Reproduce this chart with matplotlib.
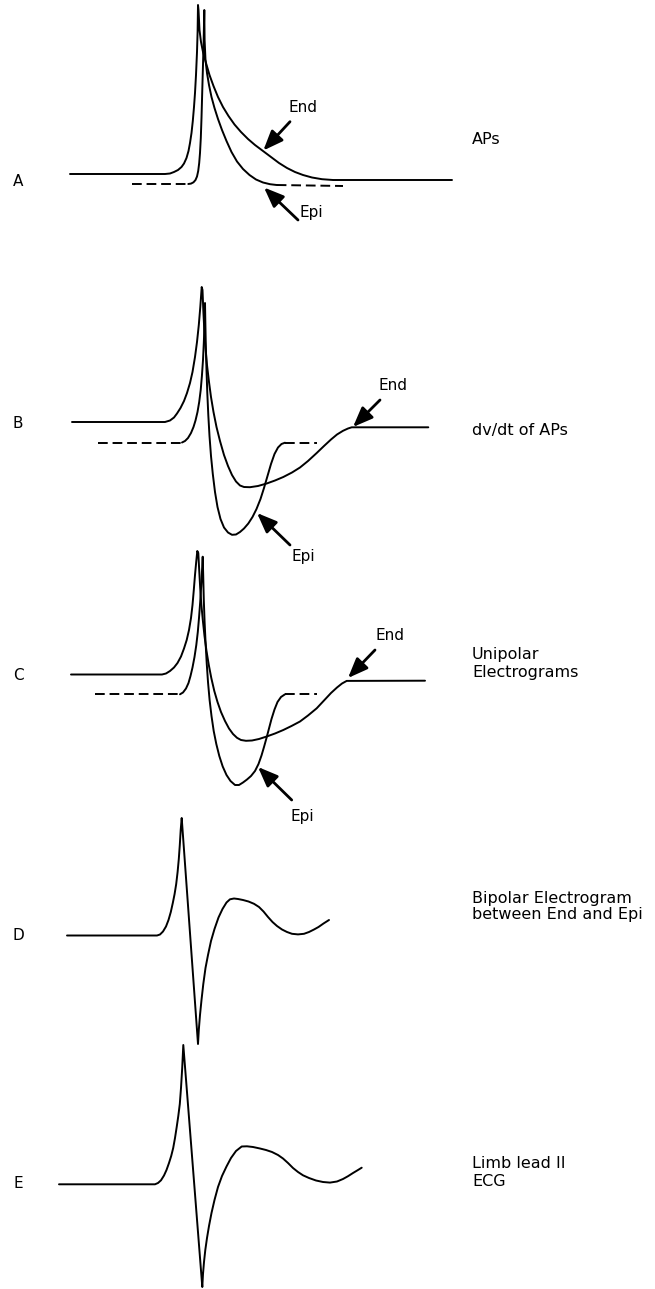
import matplotlib.pyplot as plt
import numpy as np

# all values, in pixel units (x right, y down)

# panel A - action potentials
a_end = [(70, 174), (165, 174), (170, 173.5), (174, 172), (178, 170), (181.5, 167), (184, 163.5),
         (186.5, 158), (188.5, 151), (190, 143), (191.5, 133), (192.8, 121), (194, 107),
         (195, 93), (196, 75), (197, 52), (197.6, 32), (198, 5), (198.5, 10), (199.5, 30),
         (201, 42), (203, 52), (206, 63), (209.5, 75), (213.5, 86), (218, 97), (223, 107),
         (228.5, 116), (234.5, 124.5), (241, 132), (248, 139), (255, 145), (263, 151),
         (271, 157), (279, 163), (287, 168), (295, 172), (303, 175), (312, 177.5),
         (322, 179.2), (333, 180), (452, 180)]
a_epi = [(188.3, 184), (191, 183.6), (193.5, 182.3), (195.5, 180), (197, 176.5), (198.2, 171),
         (199.2, 163), (200, 153), (200.8, 138), (201.5, 118), (202.2, 93), (202.9, 68),
         (203.6, 43), (204.3, 10), (204.6, 40), (205.5, 60), (207, 73), (209, 85), (211.5, 97),
         (214.5, 108), (218, 119), (222, 130), (226.5, 141), (231.5, 152), (237, 161.5),
         (243, 169), (249.5, 175), (256, 179.5), (263, 182.5), (270, 184.2), (276.7, 185)]
a_epi_dash = [[(131.7, 184), (188.3, 184)], [(276.7, 185), (343, 186)]]

# panel B - dv/dt of APs
b_end = [(72, 422), (165, 422), (170, 420.5), (174, 417.5), (177, 413.5), (180.5, 408),
         (184, 401), (187, 393), (190, 383), (192.5, 372), (195, 357), (197, 342), (198.8, 325),
         (200.3, 307), (201.7, 287), (202.5, 290), (203.3, 310), (204.3, 330),
         (205.5, 348), (207, 365), (209, 382), (211, 397), (213.5, 412), (216.5, 427),
         (220, 441), (224, 455), (228, 466), (232, 475), (236, 481.5), (240, 485.5),
         (244, 487), (250, 487.2), (258, 486), (266.7, 483.5), (275, 480.5), (283.3, 477),
         (292, 472.5), (300, 467.5), (308, 461), (316.7, 453), (324, 446), (331, 439.5),
         (337, 434.5), (343, 430.8), (348, 428.5), (351.7, 427.3), (428.3, 427.3)]
b_epi = [(182, 442.5), (185, 441), (188, 438), (191, 433), (193.5, 427), (195.5, 420.5),
         (197.5, 412), (199.2, 402), (200.7, 390), (201.9, 376), (203, 360), (203.8, 343),
         (204.4, 327), (204.8, 314), (205, 303), (205.3, 320), (205.8, 345), (206.5, 370),
         (207.3, 393), (208.3, 415), (209.5, 436), (211, 456), (212.8, 474), (215, 492),
         (217.5, 507), (220.5, 519), (224, 527.5), (228, 532.5), (232, 534.8), (236, 534.5),
         (240, 532), (244, 528.5), (248.3, 523.5), (252.5, 517), (256.5, 509), (260.5, 499),
         (264, 488), (267.5, 476), (271, 464), (274.5, 454), (278, 447.5), (281.5, 444),
         (285, 442.7)]
b_epi_dash = [[(98.3, 442.7), (182, 442.7)], [(285, 442.7), (316.7, 442.7)]]

# panel C - unipolar electrograms
c_end = [(71, 674.5), (162, 674.5), (166, 673.5), (170, 671), (174, 667.5), (177.5, 663),
         (181, 656.5), (184, 648.5), (186.7, 640), (189, 630), (191, 618), (192.5, 605),
         (193.8, 590), (195, 575), (196.2, 562), (197.3, 551), (198.3, 553), (199.2, 570),
         (200.2, 588), (201.3, 604), (202.8, 620), (204.5, 636), (206.5, 651), (208.8, 665),
         (211.3, 678), (214.3, 691), (217.5, 702), (221, 712), (225, 721), (229, 728.5),
         (233, 734), (237, 737.8), (241, 740), (246, 740.8), (252, 740.5), (259, 739),
         (266.7, 736.5), (275, 733.5), (283.3, 730), (291.5, 726), (300, 721.5), (308, 715.5),
         (316.7, 708.3), (324, 700.5), (331, 693), (337, 687.5), (342, 683.5), (346.7, 680.9),
         (425, 680.7)]
c_epi = [(180, 694.3), (183, 692.5), (186, 688.5), (188.5, 683), (190.5, 676), (192.5, 667.5),
         (194.5, 657), (196.3, 645), (197.8, 632), (199, 618), (200.2, 602), (201.2, 586),
         (202, 571), (202.7, 556.7), (203.2, 575), (203.8, 600), (204.6, 622), (205.6, 643),
         (206.7, 663), (208, 682), (209.6, 700), (211.5, 716), (213.7, 731), (216.3, 744),
         (219.3, 756), (222.7, 766.5), (226.5, 775), (230.5, 781), (235, 785), (239, 785),
         (243, 782.5), (247, 779.5), (251, 776), (255, 771), (258.5, 764), (261.5, 755.5),
         (264, 747), (266.5, 738), (269, 728.5), (271.5, 719), (274.5, 709.5), (277.5, 702),
         (281, 697), (285, 694.3)]
c_epi_dash = [[(95, 694.3), (180, 694.3)], [(285, 694.3), (316.7, 694.3)]]

# panel D - bipolar electrogram
d_trace = [(67, 935.5), (157, 935.5), (160, 934.5), (163, 931.5), (166, 926.5), (168.5, 920),
           (170.8, 912), (172.8, 903), (174.6, 894), (176.2, 884), (177.6, 872), (178.8, 859),
           (179.8, 845), (180.7, 830), (181.7, 818), (198, 1044), (198.8, 1030), (200, 1015),
           (201.5, 1000), (203.3, 984), (205.5, 968), (208, 955), (211, 941), (214.5, 929),
           (218.5, 917.5), (222.5, 909), (226.5, 902.5), (230, 899.3), (234, 898.5), (238, 899),
           (243, 900), (248.5, 901.5), (254, 903.8), (259, 907), (263.5, 911.5), (268, 917),
           (272.5, 922), (277, 926), (282, 929.5), (287, 932), (292, 933.8), (298, 934.4),
           (304, 933.8), (309, 932), (314, 929.5), (318.5, 927), (323.5, 923.5), (329, 920)]

# panel E - limb lead II ECG
e_trace = [(59, 1184.3), (155, 1184.3), (158, 1183), (161, 1180.3), (164, 1175.5),
           (166.5, 1170), (169, 1163), (171.2, 1156), (173.2, 1148), (175, 1138), (176.7, 1127),
           (178.3, 1116), (179.8, 1104), (181, 1088), (182.2, 1068), (183.3, 1045),
           (202.3, 1287), (203, 1274), (204, 1262), (205.3, 1250), (207, 1238), (209, 1226),
           (211.5, 1213), (214.5, 1200), (218, 1187), (222, 1176), (226.5, 1166.5), (231, 1158),
           (236, 1151), (241.7, 1146.5), (247, 1146.3), (253, 1147), (260, 1148.5), (266, 1150),
           (272, 1152), (278, 1155), (283, 1158.5), (288, 1163), (293, 1168), (298, 1172),
           (303, 1175.3), (309, 1178), (316, 1180.5), (323, 1182), (330, 1182.6), (337, 1181.5),
           (343, 1179), (348, 1176.2), (353, 1173), (357.5, 1170.3), (361.7, 1167.7)]

# arrows: (tail, head), and their labels
arrows = [((290, 121.7), (263.3, 150.5)), ((298, 220), (264, 187.5)),
          ((380, 400), (353, 427)), ((290, 545), (257, 513)),
          ((375, 650), (348, 678)), ((291.7, 800), (258, 767))]
arrow_labels = [("End", 303, 107), ("Epi", 311, 213), ("End", 393, 385),
                ("Epi", 303, 556), ("End", 390, 635), ("Epi", 302, 817)]

panel_letters = [("A", 18, 181), ("B", 18, 423), ("C", 18, 676), ("D", 18, 936), ("E", 18, 1184)]
panel_titles = [("APs", 472, 140), ("dv/dt of APs", 472, 430),
                ("Unipolar", 472, 655), ("Electrograms", 472, 672),
                ("Bipolar Electrogram", 472, 898), ("between End and Epi", 472, 915),
                ("Limb lead II", 472, 1164), ("ECG", 472, 1181)]

LW = 1.4
FONT = "DejaVu Sans"

fig = plt.figure(figsize=(6.55, 12.89), dpi=100)
ax = fig.add_axes([0, 0, 1, 1])
ax.set_xlim(0, 655)
ax.set_ylim(1289, 0)
ax.axis("off")


def trace(pts, ls="-"):
    p = np.array(pts)
    ax.plot(p[:, 0], p[:, 1], color="black", lw=LW, ls=ls,
            solid_capstyle="round", solid_joinstyle="round")


for t in (a_end, a_epi, b_end, b_epi, c_end, c_epi, d_trace, e_trace):
    trace(t)
for pair in a_epi_dash + b_epi_dash + c_epi_dash:
    trace(pair, ls=(0, (5, 2.5)))

for tail, head in arrows:
    ax.annotate("", xy=head, xytext=tail,
                arrowprops=dict(arrowstyle="-|>,head_length=1.0,head_width=0.4",
                                lw=2.0, color="black", shrinkA=0, shrinkB=0,
                                mutation_scale=12))

for s, x, y in arrow_labels:
    ax.text(x, y, s, fontsize=11, family=FONT, ha="center", va="center")
for s, x, y in panel_letters:
    ax.text(x, y, s, fontsize=11, family=FONT, ha="center", va="center")
for s, x, y in panel_titles:
    ax.text(x, y, s, fontsize=11.5, family=FONT, ha="left", va="center")

fig.savefig("out.png", dpi=100, facecolor="white")
